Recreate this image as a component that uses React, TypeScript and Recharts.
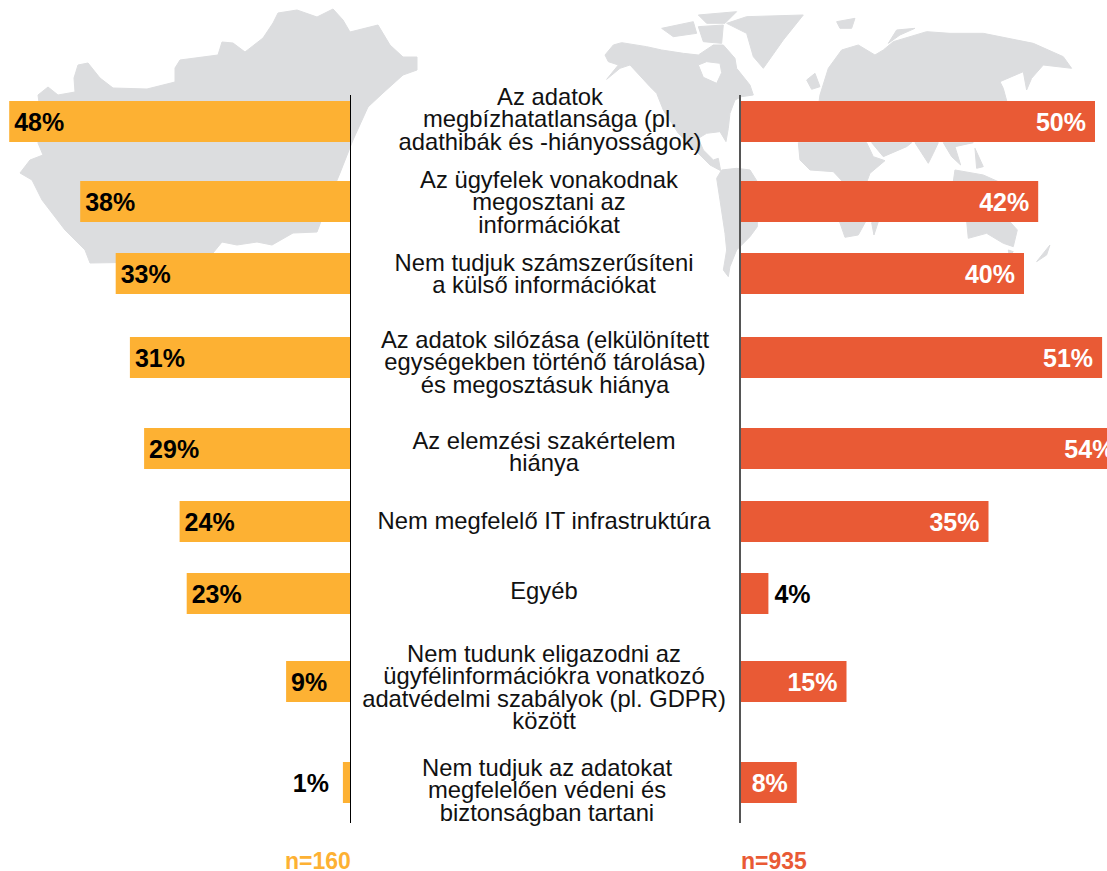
import { BarChart, Bar, XAxis, YAxis, LabelList } from 'recharts';

const categories = [
  'Az adatok\nmegbízhatatlansága (pl.\nadathibák és -hiányosságok)',
  'Az ügyfelek vonakodnak\nmegosztani az\ninformációkat',
  'Nem tudjuk számszerűsíteni\na külső információkat',
  'Az adatok silózása (elkülönített\negységekben történő tárolása)\nés megosztásuk hiánya',
  'Az elemzési szakértelem\nhiánya',
  'Nem megfelelő IT infrastruktúra',
  'Egyéb',
  'Nem tudunk eligazodni az\nügyfélinformációkra vonatkozó\nadatvédelmi szabályok (pl. GDPR)\nközött',
  'Nem tudjuk az adatokat\nmegfelelően védeni és\nbiztonságban tartani',
];
const leftValues = [48, 38, 33, 31, 29, 24, 23, 9, 1];
const rightValues = [50, 42, 40, 51, 54, 35, 4, 15, 8];
const leftCount = 'n=160';
const rightCount = 'n=935';

// layout of the rows, the rows are not evenly spaced in the original
const rowTops = [101, 181, 253, 337, 428, 501, 573, 661, 762];
const labelTops = [86, 169, 252, 329, 430, 510, 580, 643, 757];
const labelCenters = [550, 549, 544, 545, 544, 544, 544, 544, 547];

const ORANGE = '#FDB133';
const RED = '#E95A35';
const MAP = '#DCDDDF';
const FONT = '"Liberation Sans", Arial, sans-serif';
const BAR_H = 41;
const PX_PER_PCT = 7.1;

function ValueLabel(props: any) {
  const { x, y, width, height, value, side } = props;
  const left = Math.min(x, x + width);
  const right = Math.max(x, x + width);
  const cy = y + height / 2 + 9;
  const common = { y: cy, fontFamily: FONT, fontWeight: 700, fontSize: 25 };
  if (side === 'left') {
    if (value < 5) return <text {...common} x={left - 14} textAnchor="end" fill="#000">{value}%</text>;
    return <text {...common} x={left + 5} textAnchor="start" fill="#000">{value}%</text>;
  }
  if (value < 5) return <text {...common} x={right + 6} textAnchor="start" fill="#000">{value}%</text>;
  return <text {...common} x={right - 9} textAnchor="end" fill="#fff">{value}%</text>;
}

function RowBar({ value, top, side }: { value: number; top: number; side: 'left' | 'right' }) {
  const w = side === 'left' ? 350 : 400;
  return (
    <div style={{ position: 'absolute', top, left: side === 'left' ? 0 : 740 }}>
      <BarChart
        width={w}
        height={BAR_H}
        data={[{ name: 'row', value }]}
        layout="vertical"
        margin={{ top: 0, right: 0, bottom: 0, left: 0 }}
        barCategoryGap={0}
      >
        <XAxis type="number" hide domain={[0, w / PX_PER_PCT]} reversed={side === 'left'} />
        <YAxis type="category" dataKey="name" hide />
        <Bar dataKey="value" fill={side === 'left' ? ORANGE : RED} isAnimationActive={false}>
          <LabelList dataKey="value" content={(p: any) => <ValueLabel {...p} side={side} />} />
        </Bar>
      </BarChart>
    </div>
  );
}

function Maps() {
  return (
    <svg width={1107} height={300} style={{ position: 'absolute', left: 0, top: 0 }}>
      {/* Hungary */}
      <path
        fill={MAP}
        stroke={MAP}
        strokeLinejoin="round"
        d="M38,95 L48,87 L58,95 L75,92 L74,78 L78,65 L88,63 L100,78 L113,88 L147,89 L175,82 L175,68 L180,60 L218,55 L222,42 L233,43 L245,52 L263,38 L273,23 L278,13 L297,10 L317,17 L333,9 L343,20 L350,32 L378,25 L390,45 L403,57 L417,57 L417,70 L403,75 L383,93 L368,107 L353,140 L340,173 L330,197 L317,232 L293,233 L272,245 L257,242 L237,245 L222,242 L213,253 L150,262 L90,263 L85,250 L65,230 L42,200 L32,180 L20,173 L30,160 L43,155 L38,143 L40,110 Z"
      />
      {/* world, traced in the 3x crop coordinates */}
      <g transform="translate(550,0) scale(0.3333)" fill={MAP} stroke={MAP} strokeWidth={3} strokeLinejoin="round">
        {/* north and central america */}
        <path d="M165,165 L190,135 L215,128 L290,140 L335,150 L400,160 L445,165 L490,135 L520,135 L555,175 L560,205 L600,255 L610,285 L575,290 L555,300 L540,340 L535,385 L528,425 L510,395 L470,400 L445,415 L460,450 L490,480 L505,475 L512,512 L480,495 L430,445 L385,400 L340,330 L320,280 L300,260 L240,195 L210,205 L170,238 L205,195 L175,185 Z M445,195 L460,232 L500,250 L515,218 L510,190 L470,185 Z" fillRule="evenodd" />
        {/* south america */}
        <path d="M500,535 L515,510 L560,505 L600,510 L622,545 L622,680 L600,710 L560,750 L540,800 L535,830 L520,810 L530,750 L525,700 L510,600 Z" />
        {/* greenland and the arctic islands */}
        <path d="M530,70 L590,50 L760,45 L700,120 L640,205 L610,170 L590,100 Z" />
        <path d="M445,45 L560,35 L525,70 L470,70 Z" />
        <path d="M335,85 L430,65 L440,100 L370,110 Z" />
        <path d="M445,80 L520,75 L515,130 L460,125 Z" />
        <path d="M860,65 L915,55 L905,85 L870,85 Z" />
        <path d="M1015,130 L1040,90 L1095,85 L1050,105 Z" />
        <path d="M770,240 L795,220 L810,260 L785,268 Z" />
        {/* eurasia */}
        <path d="M805,320 L810,285 L835,205 L875,150 L925,135 L975,165 L1000,150 L1030,125 L1130,95 L1200,100 L1300,100 L1450,130 L1540,170 L1565,205 L1480,195 L1445,235 L1430,270 L1420,215 L1350,245 L1360,265 L1375,320 Z" />
        {/* africa and southern asia, below the first bar */}
        <path d="M745,428 L750,480 L780,510 L850,515 L880,547 L950,547 L960,520 L1005,482 L970,470 L950,428 Z" />
        <path d="M965,428 L1000,470 L1070,440 L1085,428 Z" />
        <path d="M1095,428 L1135,490 L1150,460 L1165,428 Z" />
        <path d="M1180,428 L1205,470 L1232,495 L1215,440 L1270,428 Z" />
        <path d="M1275,445 L1300,500 L1280,505 Z" />
        <path d="M1215,510 L1300,525 L1345,545 L1210,545 Z" />
        {/* southern africa and madagascar */}
        <path d="M868,663 L948,663 L925,705 L885,712 Z" />
        <path d="M965,668 L985,665 L972,705 Z" />
        {/* australia and new zealand */}
        <path d="M1250,663 L1378,663 L1402,690 L1390,740 L1360,730 L1310,700 L1255,715 Z" />
        <path d="M1375,750 L1390,755 L1378,768 Z" />
        <path d="M1460,785 L1500,735 L1490,765 Z" />
      </g>
    </svg>
  );
}

export default function App() {
  return (
    <div style={{ position: 'absolute', left: 0, top: 0, width: 1107, height: 871, overflow: 'hidden', background: '#fff', fontFamily: FONT }}>
      <Maps />
      {categories.map((c, i) => (
        <div
          key={c}
          style={{
            position: 'absolute',
            top: labelTops[i],
            left: labelCenters[i] - 250,
            width: 500,
            textAlign: 'center',
            whiteSpace: 'pre',
            fontSize: 23.8,
            lineHeight: '22.3px',
            color: '#111',
          }}
        >
          {c}
        </div>
      ))}
      {leftValues.map((v, i) => (
        <RowBar key={'l' + i} value={v} top={rowTops[i]} side="left" />
      ))}
      {rightValues.map((v, i) => (
        <RowBar key={'r' + i} value={v} top={rowTops[i]} side="right" />
      ))}
      <div style={{ position: 'absolute', left: 350, top: 95, width: 1, height: 728, background: '#000' }} />
      <div style={{ position: 'absolute', left: 739, top: 95, width: 2, height: 728, background: '#555' }} />
      <div style={{ position: 'absolute', left: 285, top: 851, fontSize: 23, lineHeight: '20px', fontWeight: 700, color: ORANGE }}>{leftCount}</div>
      <div style={{ position: 'absolute', left: 741, top: 851, fontSize: 23, lineHeight: '20px', fontWeight: 700, color: RED }}>{rightCount}</div>
    </div>
  );
}
